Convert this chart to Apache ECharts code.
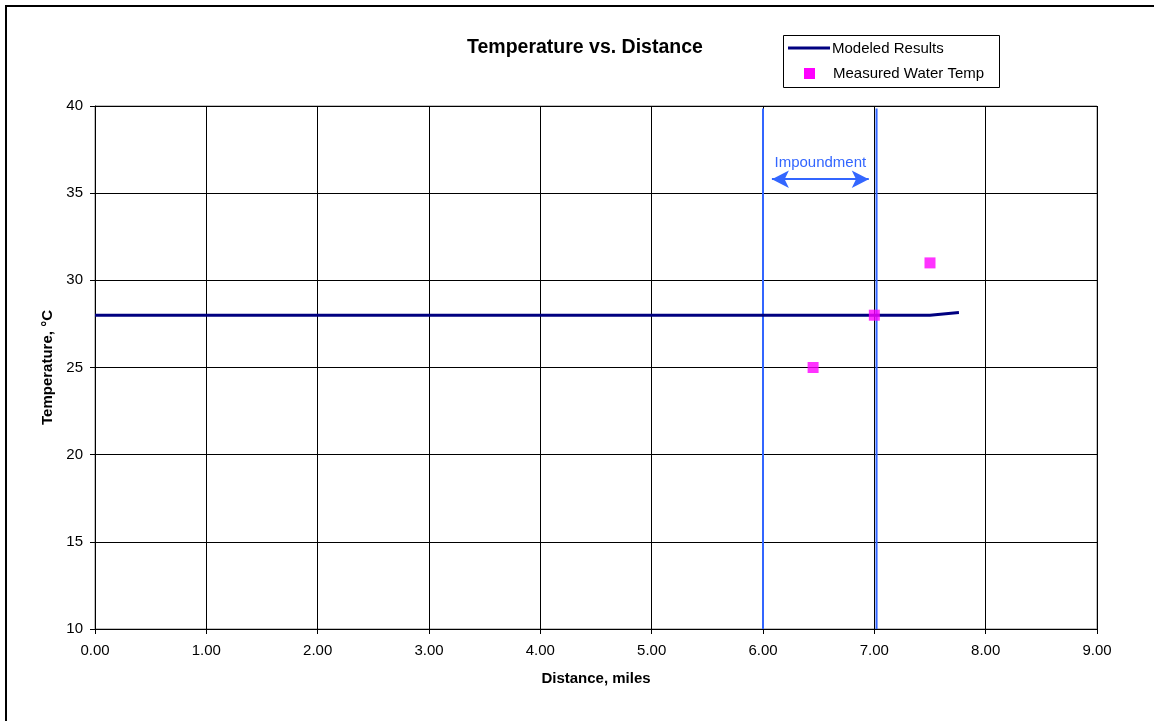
<!DOCTYPE html>
<html><head><meta charset="utf-8">
<script src="https://cdn.jsdelivr.net/npm/echarts@6/dist/echarts.min.js"></script>
<style>html,body{margin:0;padding:0;background:#fff}#c{width:1154px;height:721px}</style>
</head><body><div id="c"></div>
<script>
const modeledX = [0.00, 7.50, 7.76];
const modeledY = [28.0, 28.0, 28.15];
const measuredX = [6.45, 7.00, 7.50];
const measuredY = [25, 28, 31];
const impoundStart = 6.00;
const impoundEnd = 7.02;
const arrowY = 35.8;
const arrowFrom = 6.08;
const arrowTo = 6.95;
const FONT = 'Liberation Sans, Arial, sans-serif';

const chart = echarts.init(document.getElementById('c'));
chart.setOption({
  animation: false,
  backgroundColor: '#fff',
  title: {text: 'Temperature vs. Distance', left: 462, top: 33,
    textStyle: {fontFamily: FONT, fontSize: 19.5, fontWeight: 'bold', color: '#000'}},
  grid: {left: 95, right: 57, top: 106, bottom: 92, show: true, borderColor: '#808080', borderWidth: 1},
  xAxis: {type: 'value', min: 0, max: 9, interval: 1,
    name: 'Distance, miles', nameLocation: 'middle', nameGap: 42,
    nameTextStyle: {fontFamily: FONT, fontSize: 15, fontWeight: 'bold', color: '#000'},
    axisLine: {show: true, lineStyle: {color: '#000'}},
    axisTick: {show: true, length: 5, inside: false, lineStyle: {color: '#000'}},
    axisLabel: {formatter: v => v.toFixed(2), margin: 14, fontFamily: FONT, fontSize: 15, color: '#000'},
    splitLine: {show: true, lineStyle: {color: '#000', width: 1}}},
  yAxis: {type: 'value', min: 10, max: 40, interval: 5,
    name: 'Temperature, °C', nameLocation: 'middle', nameGap: 40,
    nameTextStyle: {fontFamily: FONT, fontSize: 15, fontWeight: 'bold', color: '#000'},
    axisLine: {show: true, lineStyle: {color: '#000'}},
    axisTick: {show: true, length: 5, lineStyle: {color: '#000'}},
    axisLabel: {margin: 12, fontFamily: FONT, fontSize: 15, color: '#000'},
    splitLine: {show: true, lineStyle: {color: '#000', width: 1}}},
  series: [
    {name: 'Impoundment start', type: 'line', data: [[impoundStart, 10], [impoundStart, 39.85]],
      symbol: 'none', lineStyle: {color: '#3366FF', width: 2}, z: 3, silent: true},
    {name: 'Impoundment end', type: 'line', data: [[impoundEnd, 10], [impoundEnd, 39.85]],
      symbol: 'none', lineStyle: {color: '#3366FF', width: 2}, z: 3, silent: true,
      markLine: {silent: true, symbol: ['arrow', 'arrow'], symbolSize: [13, 17],
        lineStyle: {color: '#3366FF', width: 2, type: 'solid'},
        label: {show: true, position: 'middle', formatter: 'Impoundment', distance: 9,
          fontFamily: FONT, fontSize: 15, color: '#3366FF'},
        data: [[{coord: [arrowFrom, arrowY]}, {coord: [arrowTo, arrowY]}]]}},
    {name: 'Modeled Results', type: 'line', data: modeledX.map((x, i) => [x, modeledY[i]]),
      symbol: 'none', lineStyle: {color: '#000080', width: 3}, z: 4},
    {name: 'Measured Water Temp', type: 'scatter', data: measuredX.map((x, i) => [x, measuredY[i]]),
      symbol: 'rect', symbolSize: 11, itemStyle: {color: '#FF00FF'}, z: 5}
  ],
  graphic: [
    {type: 'rect', shape: {x: 6, y: 6, width: 1200, height: 800}, style: {fill: 'none', stroke: '#000', lineWidth: 2}, z: 100},
    {type: 'rect', shape: {x: 783.5, y: 35.5, width: 216, height: 52}, style: {fill: '#fff', stroke: '#000', lineWidth: 1}, z: 100},
    {type: 'line', shape: {x1: 788, y1: 48, x2: 830, y2: 48}, style: {stroke: '#000080', lineWidth: 3}, z: 101},
    {type: 'text', x: 832, y: 49, style: {text: 'Modeled Results', fontFamily: FONT, fontSize: 15, fill: '#000', verticalAlign: 'middle'}, z: 101},
    {type: 'rect', shape: {x: 804, y: 68, width: 11, height: 11}, style: {fill: '#FF00FF'}, z: 101},
    {type: 'text', x: 833, y: 74, style: {text: 'Measured Water Temp', fontFamily: FONT, fontSize: 15, fill: '#000', verticalAlign: 'middle'}, z: 101}
  ]
});
</script></body></html>
